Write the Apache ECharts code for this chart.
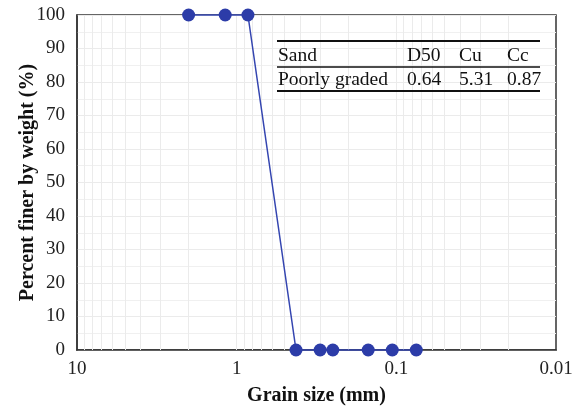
<!DOCTYPE html>
<html>
<head>
<meta charset="utf-8">
<script src="https://cdn.jsdelivr.net/npm/echarts@6/dist/echarts.min.js"></script>
<style>html,body{margin:0;padding:0;background:#fff}#c{width:577px;height:406px}</style>
</head>
<body>
<div id="c"></div>
<script>
// Data
const grainSize = [2.0, 1.18, 0.85, 0.425, 0.3, 0.25, 0.15, 0.106, 0.075];
const percentFiner = [100, 100, 100, 0, 0, 0, 0, 0, 0];
const xTickLabels = ['10', '1', '0.1', '0.01'];
const minorX = [9,8,7,6,5,4,3,2,1,0.9,0.8,0.7,0.6,0.5,0.4,0.3,0.2,0.1,0.09,0.08,0.07,0.06,0.05,0.04,0.03,0.02];
const tableHeader = ['Sand', 'D50', 'Cu', 'Cc'];
const tableRow = ['Poorly graded', '0.64', '5.31', '0.87'];
const xName = 'Grain size (mm)';
const yName = 'Percent finer by weight (%)';

const serif = '"Liberation Serif", "Times New Roman", serif';
const chart = echarts.init(document.getElementById('c'));
const colX = [278, 407, 459, 507];
const graphic = [];
[[41, 2], [67, 1.5], [91, 2]].forEach(([y, w]) => {
  graphic.push({type: 'line', shape: {x1: 277, y1: y, x2: 540, y2: y}, style: {stroke: '#111', lineWidth: w}, z: 10});
});
tableHeader.forEach((t, i) => graphic.push({type: 'text', x: colX[i], y: 56, style: {text: t, font: '19.5px ' + serif, fill: '#111', textVerticalAlign: 'middle'}, z: 10}));
tableRow.forEach((t, i) => graphic.push({type: 'text', x: colX[i], y: 80, style: {text: t, font: '19.5px ' + serif, fill: '#111', textVerticalAlign: 'middle'}, z: 10}));

chart.setOption({
  animation: false,
  grid: {left: 77, right: 21, top: 15, bottom: 56, containLabel: false, outerBoundsMode: 'none', show: true, borderColor: '#333', borderWidth: 1.5, backgroundColor: 'transparent'},
  xAxis: {
    type: 'log', logBase: 10, min: 0.01, max: 10, inverse: true,
    name: xName, nameLocation: 'middle', nameGap: 36,
    nameTextStyle: {fontFamily: serif, fontWeight: 'bold', fontSize: 20, color: '#111'},
    axisLine: {lineStyle: {color: '#333', width: 1.5}},
    axisTick: {show: false},
    splitLine: {show: false},
    axisLabel: {fontFamily: serif, fontSize: 19, color: '#222', margin: 10,
      formatter: v => { const i = Math.round(1 - Math.log10(v)); return xTickLabels[i] !== undefined ? xTickLabels[i] : ''; }}
  },
  yAxis: {
    type: 'value', min: 0, max: 100, interval: 10,
    name: yName, nameLocation: 'middle', nameGap: 39, nameRotate: 90, nameMoveOverlap: false,
    nameTextStyle: {fontFamily: serif, fontWeight: 'bold', fontSize: 20, color: '#111'},
    axisLine: {show: true, lineStyle: {color: '#333', width: 1.5}},
    axisTick: {show: false},
    splitLine: {show: true, lineStyle: {color: '#ebebeb', width: 1}},
    minorTick: {show: false, splitNumber: 2},
    minorSplitLine: {show: true, lineStyle: {color: '#f0f0f0', width: 1}},
    axisLabel: {fontFamily: serif, fontSize: 19, color: '#222', margin: 12}
  },
  graphic: graphic,
  series: [{
    type: 'line',
    data: grainSize.map((g, i) => [g, percentFiner[i]]),
    clip: false,
    symbol: 'circle', symbolSize: 13,
    lineStyle: {color: '#3445b0', width: 1.5},
    itemStyle: {color: '#2c3ca8'},
    z: 5,
    markLine: {
      silent: true, symbol: 'none', label: {show: false},
      lineStyle: {color: '#ebebeb', width: 1, type: 'solid'},
      data: minorX.map(v => ({xAxis: v}))
    }
  }]
});
</script>
</body>
</html>
